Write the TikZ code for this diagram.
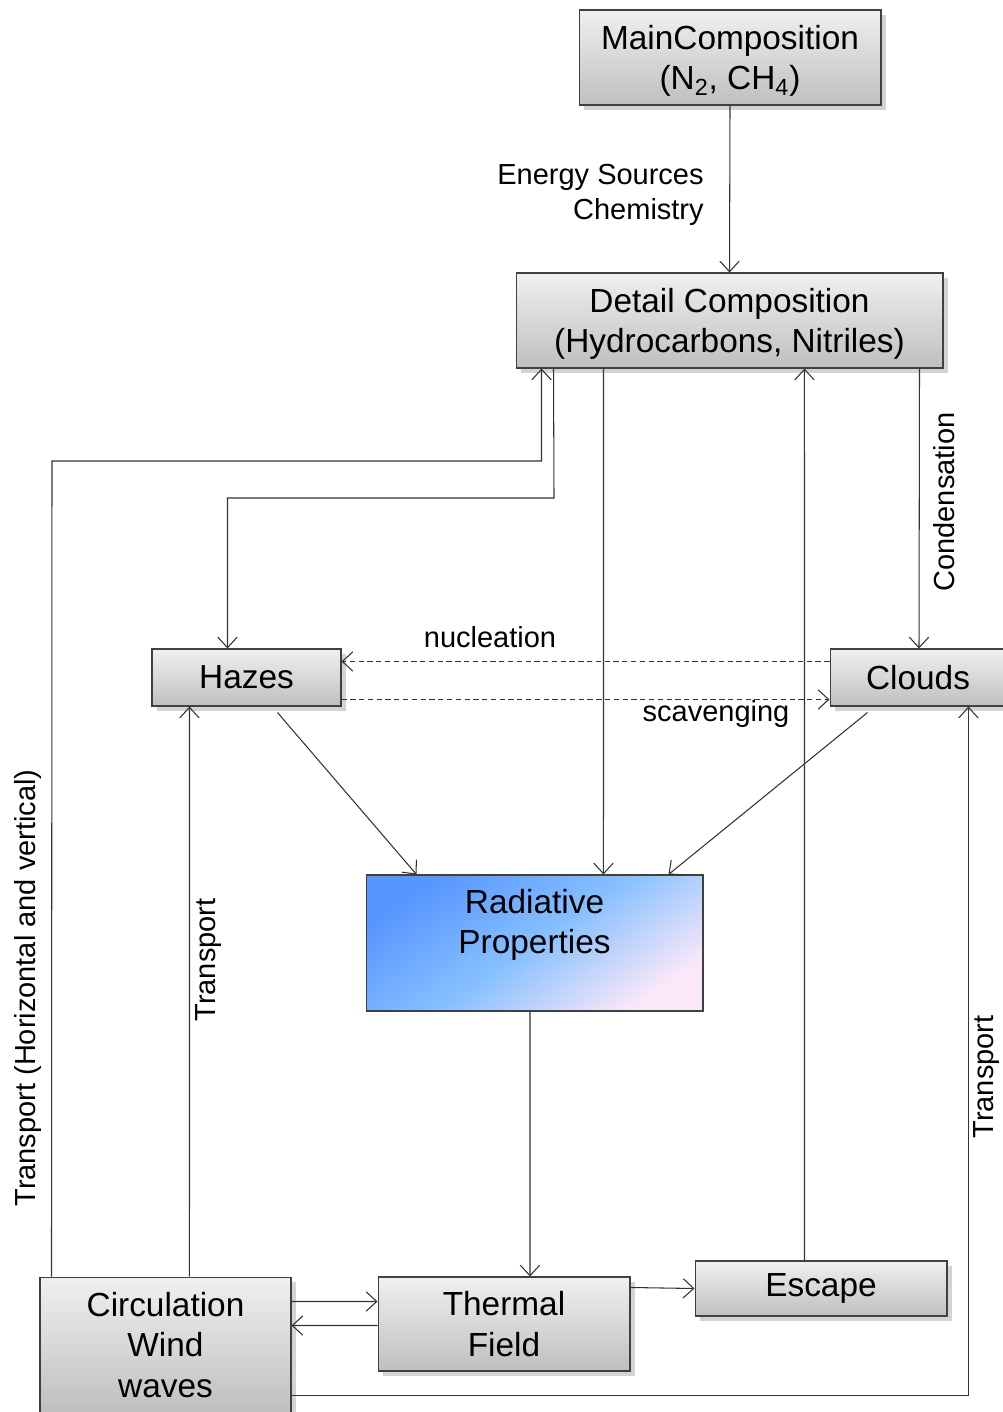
\documentclass[tikz,border=0pt]{standalone}
\usepackage{fontspec}
\setmainfont{Liberation Sans}
\usepackage{tikz}
\usetikzlibrary{positioning,shapes,arrows.meta,shadows}
\definecolor{radtop}{RGB}{88,150,255}
\definecolor{radmid}{RGB}{135,192,255}
\definecolor{radbot}{RGB}{250,232,248}
\tikzset{
        >={Straight Barb[length=6pt,width=11pt]}, % open arrow heads
        block/.style={draw=black!75, semithick, top color=gray!12, bottom color=gray!50, drop shadow={opacity=0.35}, font=\fontsize{19}{23}\selectfont, align=center, inner sep=0pt}, % the grey boxes
        radbox/.style={draw=black!75, semithick, shading=axis, top color=radtop, bottom color=radbot, middle color=radmid, shading angle=35},
        lab/.style={font=\fontsize{16.5}{20}\selectfont, inner sep=0pt}, % the texts on the edges
        link/.style={->, black!80, semithick},
}
\begin{document}
\begin{tikzpicture}[x=0.02cm,y=-0.02cm]
\useasboundingbox (0,0) rectangle (1003,1412);

% boxes
\node[block, minimum width=6.04cm, minimum height=1.9cm, text depth=-0.06cm] (main) at (730,57.5) {MainComposition\\(N\textsubscript{2}, CH\textsubscript{4})};
\node[block, minimum width=8.54cm, minimum height=1.9cm, text depth=-0.06cm] (detail) at (729.5,320.5) {Detail Composition\\(Hydrocarbons, Nitriles)};
\node[block, minimum width=3.78cm, minimum height=1.14cm] (hazes) at (246.5,677.5) {Hazes};
\node[block, minimum width=3.52cm, minimum height=1.14cm] (clouds) at (918,677.5) {Clouds};
\node[radbox, minimum width=6.74cm, minimum height=2.72cm] (rad) at (534.5,943) {};
\node[font=\fontsize{19}{23}\selectfont, align=center] (radtext) at (534.5,925) {Radiative\\Properties};
\node[block, minimum width=5.02cm, minimum height=2.72cm] (circ) at (165.5,1345) {Circulation\\Wind\\waves};
\node[block, minimum width=5.04cm, minimum height=1.88cm] (therm) at (504,1324) {Thermal\\Field};
\node[block, minimum width=5.04cm, minimum height=1.1cm] (escape) at (821,1288.5) {Escape};

% top part
\draw[link] (main.south) -- (detail.north);
\node[lab, anchor=east, align=right] (energy) at (704,195) {Energy Sources\\Chemistry};

\draw[link] ([xshift=0.24cm]circ.north west) -- (52,461) -| ([xshift=0.52cm]detail.south west);
\draw[link] ([xshift=0.76cm]detail.south west) -- (554,498) -| ([xshift=1.52cm]hazes.north west);
\draw[link] ([xshift=1.76cm]detail.south west) -- ([xshift=4.76cm]rad.north west);
\draw[link] ([xshift=2.2cm]escape.north west) -- ([xshift=5.78cm]detail.south west);
\draw[link] ([xshift=-0.48cm]detail.south east) -- ([xshift=0.02cm]clouds.north);

% hazes and clouds
\draw[link, densely dashed] ([yshift=-0.26cm]clouds.north west) -- ([yshift=-0.26cm]hazes.north east);
\draw[link, densely dashed] ([yshift=0.14cm]hazes.south east) -- ([yshift=0.14cm]clouds.south west);
\draw[link] ([xshift=2.52cm,yshift=-0.12cm]hazes.south west) -- ([xshift=1.02cm]rad.north west);
\draw[link] ([xshift=0.76cm,yshift=-0.12cm]clouds.south west) -- ([xshift=-0.7cm]rad.north east);

% bottom part
\draw[link] ([xshift=-0.09cm]rad.south) -- ([xshift=0.52cm]therm.north);
\draw[link] ([yshift=-0.5cm]circ.north east) -- ([yshift=-0.5cm]therm.north west);
\draw[link] ([yshift=-0.98cm]therm.north west) -- ([yshift=-0.98cm]circ.north east);
\draw[link] ([yshift=-0.22cm]therm.north east) -- (escape.west);
\draw[link] ([xshift=3cm]circ.north west) -- ([xshift=0.76cm]hazes.south west);
\draw[link] ([yshift=-2.38cm]circ.north east) -| ([xshift=2.78cm]clouds.south west);

% edge labels
\node[lab] (nucl) at (490,637) {nucleation};
\node[lab] (scav) at (716,714) {scavenging};
\foreach \x/\y/\t/\n in {28/988/Transport (Horizontal and vertical)/tr1, 944/502/Condensation/cond, 209/960/Transport/tr2, 987/1077/Transport/tr3}
  \node[lab, rotate=90] (\n) at (\x,\y) {\t};
\end{tikzpicture}
\end{document}
